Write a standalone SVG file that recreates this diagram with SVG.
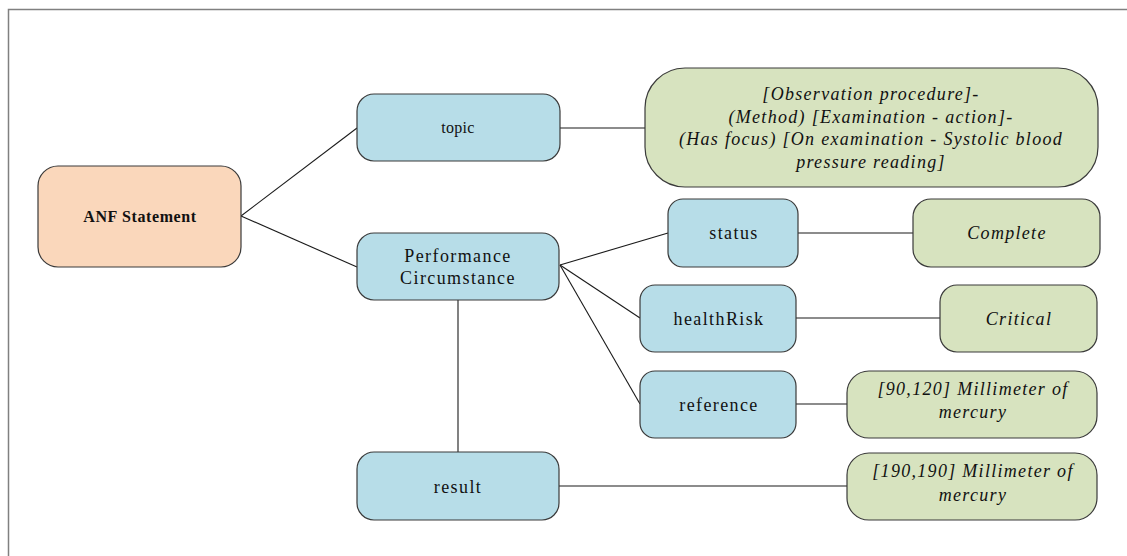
<svg xmlns="http://www.w3.org/2000/svg" width="1127" height="556" viewBox="0 0 1127 556">
<style>
.frame{fill:none;stroke:#808080;stroke-width:1.5}
.blue{fill:#b7dde8;stroke:#3a3a3a;stroke-width:1.2}
.orange{fill:#fad7bb;stroke:#3a3a3a;stroke-width:1.2}
.green{fill:#d7e3bf;stroke:#3a3a3a;stroke-width:1.2}
.conn line{stroke:#1a1a1a;stroke-width:1.1}
text{font-family:"Liberation Serif","Times New Roman",serif;fill:#111;text-anchor:middle}
.lbl{font-size:18px;letter-spacing:1.4px}
.val{font-size:18px;letter-spacing:1.3px;font-style:italic}
.small{font-size:16px;letter-spacing:0.3px}
.bold{font-size:16px;font-weight:bold;letter-spacing:0.6px}
</style>
<rect class="frame" x="8.5" y="9.5" width="1200" height="600"/>
<g id="connectors" class="conn">
<line x1="241" y1="216" x2="357" y2="128"/>
<line x1="241" y1="216" x2="357" y2="267"/>
<line x1="560" y1="128" x2="645" y2="128"/>
<line x1="560" y1="265" x2="668" y2="233"/>
<line x1="560" y1="265" x2="640" y2="318"/>
<line x1="560" y1="265" x2="640" y2="404"/>
<line x1="458" y1="300" x2="458" y2="452"/>
<line x1="798" y1="233" x2="913" y2="233"/>
<line x1="796" y1="318" x2="940" y2="318"/>
<line x1="796" y1="404" x2="847" y2="404"/>
<line x1="559" y1="486" x2="847" y2="486"/>
</g>
<g id="anf">
<rect class="orange" x="38" y="166" width="203" height="101" rx="20"/>
<text class="bold" x="140" y="222">ANF Statement</text>
</g>
<g id="topic">
<rect class="blue" x="357" y="94" width="203" height="67" rx="17"/>
<text class="small" x="458" y="133">topic</text>
</g>
<g id="topic-value">
<rect class="green" x="645" y="68" width="453" height="119" rx="40"/>
<text class="val" x="871" y="100">[Observation procedure]-</text>
<text class="val" x="871" y="123">(Method) [Examination - action]-</text>
<text class="val" x="871" y="145">(Has focus) [On examination - Systolic blood</text>
<text class="val" x="871" y="168">pressure reading]</text>
</g>
<g id="performance">
<rect class="blue" x="357" y="233" width="202" height="67" rx="17"/>
<text class="lbl" x="458" y="262">Performance</text>
<text class="lbl" x="458" y="284">Circumstance</text>
</g>
<g id="status">
<rect class="blue" x="668" y="199" width="130" height="68" rx="15"/>
<text class="lbl" x="734" y="239">status</text>
</g>
<g id="complete">
<rect class="green" x="913" y="199" width="187" height="68" rx="18"/>
<text class="val" x="1007" y="239">Complete</text>
</g>
<g id="healthrisk">
<rect class="blue" x="640" y="285" width="156" height="67" rx="15"/>
<text class="lbl" x="719" y="325">healthRisk</text>
</g>
<g id="critical">
<rect class="green" x="940" y="285" width="157" height="67" rx="17"/>
<text class="val" x="1019" y="325">Critical</text>
</g>
<g id="reference">
<rect class="blue" x="640" y="371" width="156" height="67" rx="15"/>
<text class="lbl" x="719" y="411">reference</text>
</g>
<g id="reference-value">
<rect class="green" x="847" y="371" width="250" height="67" rx="22"/>
<text class="val" x="973" y="395">[90,120]  Millimeter of</text>
<text class="val" x="973" y="418">mercury</text>
</g>
<g id="result">
<rect class="blue" x="357" y="452" width="202" height="68" rx="17"/>
<text class="lbl" x="458" y="493">result</text>
</g>
<g id="result-value">
<rect class="green" x="847" y="453" width="250" height="67" rx="22"/>
<text class="val" x="973" y="477">[190,190] Millimeter of</text>
<text class="val" x="973" y="501">mercury</text>
</g>
</svg>
